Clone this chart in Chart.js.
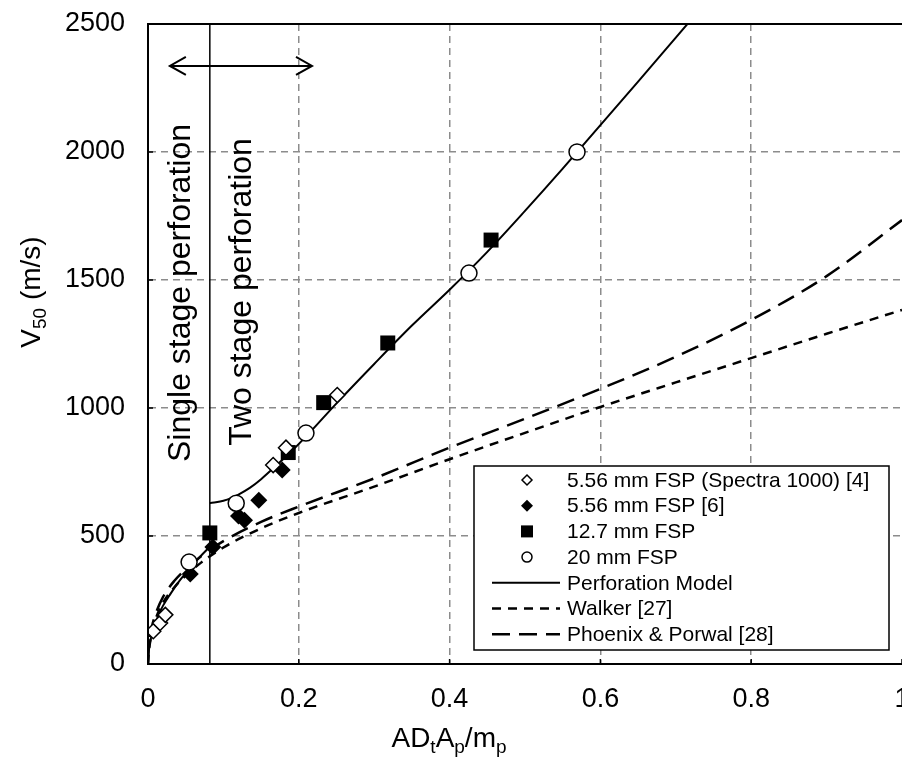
<!DOCTYPE html>
<html><head><meta charset="utf-8">
<script src="https://cdn.jsdelivr.net/npm/chart.js@4.4.1/dist/chart.umd.min.js"></script>
<style>html,body{margin:0;padding:0;background:#fff;overflow:hidden}
#wrap{position:absolute;left:0;top:0;width:902px;height:760px}</style>
</head><body><div id="wrap"><canvas id="c"></canvas></div>
<script>
const xTicks=[0,0.2,0.4,0.6,0.8,1];
const yTicks=[0,500,1000,1500,2000,2500];
const spectraX=[0.007,0.016,0.023,0.166,0.183,0.251];
const spectraY=[128,160,192,777,845,1051];
const fsp556X=[0.056,0.086,0.120,0.128,0.147,0.178];
const fsp556Y=[352,457,578,562,640,758];
const fsp127X=[0.082,0.186,0.233,0.318,0.455];
const fsp127Y=[512,826,1021,1254,1656];
const fsp20X=[0.0545,0.117,0.2095,0.4257,0.569];
const fsp20Y=[398,628,902,1527,2000];
const singleX=[0,0.0005,0.001,0.002,0.004,0.007,0.01,0.015,0.02,0.03,0.04,0.05,0.06,0.07,0.082];
const singleY=[0,36,51,72,102,135,162,198,228,275,318,355,390,422,458];
const twoX=[0.082,0.09,0.1,0.11,0.12,0.135,0.15,0.17,0.19,0.21,0.25,0.3,0.35,0.4,0.45,0.5,0.55,0.6,0.65,0.7,0.73];
const twoY=[629,632,638,648,662,688,722,775,830,890,1018,1172,1322,1462,1610,1770,1935,2105,2275,2447,2550];
const walkerX=[0,0.001,0.003,0.006,0.01,0.02,0.035,0.05,0.07,0.1,0.15,0.2,0.3,0.4,0.5,0.6,0.7,0.8,0.9,1.0];
const walkerY=[0,45,90,135,175,240,300,345,395,455,530,590,693,800,903,1004,1100,1195,1290,1383];
const phoenixX=[0,0.001,0.003,0.006,0.01,0.02,0.035,0.05,0.07,0.1,0.15,0.2,0.3,0.4,0.5,0.6,0.7,0.8,0.9,1.0];
const phoenixY=[0,60,110,155,195,262,325,370,420,480,555,615,725,845,958,1075,1200,1344,1515,1734];
const boundaryX=[0.082,0.082];
const boundaryY=[0,2500];
const arrowX=[0.029,0.2175];
const arrowY=[2336,2336];
const legendLabels=["5.56 mm FSP (Spectra 1000) [4]","5.56 mm FSP [6]","12.7 mm FSP","20 mm FSP","Perforation Model","Walker [27]","Phoenix & Porwal [28]"];

const pts=(xs,ys)=>xs.map((x,i)=>({x:x,y:ys[i]}));
const FONT='"Liberation Sans", Arial, sans-serif';
const GRID='#8c8c8c';

function lineDs(xs,ys,dash,w){return {type:'scatter',data:pts(xs,ys),showLine:true,pointRadius:0,borderColor:'#000',borderWidth:w,borderDash:dash,fill:false,cubicInterpolationMode:'monotone',order:5};}

const overlay={
  id:'overlay',
  afterDatasetsDraw(chart){
    const ctx=chart.ctx, xs=chart.scales.x, ys=chart.scales.y, a=chart.chartArea;
    ctx.save();
    const ay=ys.getPixelForValue(arrowY[0]);
    const ax1=xs.getPixelForValue(arrowX[0]), ax2=xs.getPixelForValue(arrowX[1]);
    ctx.strokeStyle='#000';ctx.lineWidth=2;ctx.beginPath();
    ctx.moveTo(ax1+16,ay-9);ctx.lineTo(ax1,ay);ctx.lineTo(ax1+16,ay+9);
    ctx.moveTo(ax2-16,ay-9);ctx.lineTo(ax2,ay);ctx.lineTo(ax2-16,ay+9);
    ctx.stroke();
    ctx.lineWidth=2;ctx.beginPath();
    ctx.moveTo(a.left,a.top);ctx.lineTo(a.right,a.top);
    ctx.moveTo(a.left,a.top);ctx.lineTo(a.left,a.bottom);ctx.lineTo(a.right,a.bottom);
    ctx.stroke();
    ctx.lineWidth=1.5;ctx.beginPath();
    yTicks.forEach(v=>{const p=ys.getPixelForValue(v);ctx.moveTo(a.left,p);ctx.lineTo(a.left+5,p);});
    xTicks.forEach(v=>{const p=xs.getPixelForValue(v);ctx.moveTo(p,a.bottom);ctx.lineTo(p,a.bottom-5);});
    ctx.stroke();
    ctx.fillStyle='#000';ctx.textAlign='center';ctx.textBaseline='middle';
    ctx.font='32px '+FONT;
    ctx.save();ctx.translate(181,293);ctx.rotate(-Math.PI/2);ctx.fillText('Single stage perforation',0,0);ctx.restore();
    ctx.save();ctx.translate(242,292);ctx.rotate(-Math.PI/2);ctx.fillText('Two stage perforation',0,0);ctx.restore();
    const L=474,T=466,R=889,B=650;
    ctx.fillStyle='#fff';ctx.fillRect(L,T,R-L,B-T);
    ctx.strokeStyle='#000';ctx.lineWidth=1.5;ctx.strokeRect(L,T,R-L,B-T);
    ctx.font='21px '+FONT;ctx.textAlign='left';ctx.fillStyle='#000';
    const rowY=i=>480+i*25.7;
    legendLabels.forEach((t,i)=>{ctx.fillStyle='#000';ctx.fillText(t,567,rowY(i)+1);});
    const cx=527;
    let y=rowY(0);ctx.lineWidth=1.5;ctx.beginPath();ctx.moveTo(cx-5,y);ctx.lineTo(cx,y-5);ctx.lineTo(cx+5,y);ctx.lineTo(cx,y+5);ctx.closePath();ctx.fillStyle='#fff';ctx.fill();ctx.stroke();
    y=rowY(1);ctx.beginPath();ctx.moveTo(cx-6,y);ctx.lineTo(cx,y-6);ctx.lineTo(cx+6,y);ctx.lineTo(cx,y+6);ctx.closePath();ctx.fillStyle='#000';ctx.fill();
    y=rowY(2);ctx.fillRect(cx-6,y-6,12,12);
    y=rowY(3);ctx.beginPath();ctx.arc(cx,y,5,0,Math.PI*2);ctx.fillStyle='#fff';ctx.fill();ctx.stroke();
    const seg=(i,dash,w)=>{const yy=rowY(i);ctx.setLineDash(dash);ctx.lineWidth=w;ctx.beginPath();ctx.moveTo(492,yy);ctx.lineTo(560,yy);ctx.stroke();};
    seg(4,[],2);seg(5,[9,7],2.5);seg(6,[18,9],2.5);ctx.setLineDash([]);
    ctx.fillStyle='#000';ctx.textBaseline='alphabetic';
    const drawRich=(parts,x,y)=>{let w=0;parts.forEach(p=>{ctx.font=(p.s?'19px ':'28px ')+FONT;w+=ctx.measureText(p.t).width;});let cxp=x-w/2;parts.forEach(p=>{ctx.font=(p.s?'19px ':'28px ')+FONT;ctx.textAlign='left';ctx.fillText(p.t,cxp,y+(p.s?6:0));cxp+=ctx.measureText(p.t).width;});};
    drawRich([{t:'AD'},{t:'t',s:1},{t:'A'},{t:'p',s:1},{t:'/m'},{t:'p',s:1}],449,747);
    ctx.save();ctx.translate(40,292);ctx.rotate(-Math.PI/2);
    drawRich([{t:'V'},{t:'50',s:1},{t:' (m/s)'}],0,0);
    ctx.restore();
    ctx.restore();
  }
};

new Chart(document.getElementById('c'),{
  data:{datasets:[
    {type:'scatter',data:pts(fsp20X,fsp20Y),pointStyle:'circle',pointRadius:8,pointBackgroundColor:'#fff',pointBorderColor:'#000',pointBorderWidth:1.5,order:1},
    {type:'scatter',data:pts(spectraX,spectraY),pointStyle:'rectRot',pointRadius:7.5,pointBackgroundColor:'#fff',pointBorderColor:'#000',pointBorderWidth:1.5,order:2},
    {type:'scatter',data:pts(fsp127X,fsp127Y),pointStyle:'rect',pointRadius:10.6,pointBackgroundColor:'#000',pointBorderColor:'#000',pointBorderWidth:0,order:3},
    {type:'scatter',data:pts(fsp556X,fsp556Y),pointStyle:'rectRot',pointRadius:8.5,pointBackgroundColor:'#000',pointBorderColor:'#000',pointBorderWidth:0,order:4},
    lineDs(twoX,twoY,[],2),
    lineDs(singleX,singleY,[],2),
    lineDs(walkerX,walkerY,[9,7],2.5),
    lineDs(phoenixX,phoenixY,[18,9],2.5),
    Object.assign(lineDs(boundaryX,boundaryY,[],1.5),{cubicInterpolationMode:'default',tension:0}),
    Object.assign(lineDs(arrowX,arrowY,[],2),{cubicInterpolationMode:'default',tension:0})
  ]},
  options:{
    responsive:true,maintainAspectRatio:false,animation:false,
    layout:{autoPadding:false,padding:{top:24,left:0,right:0,bottom:0}},
    plugins:{legend:{display:false},tooltip:{enabled:false}},
    scales:{
      x:{type:'linear',min:0,max:1,
        afterBuildTicks:s=>{s.ticks=xTicks.map(v=>({value:v}));},
        afterFit:s=>{s.height=96;s.paddingRight=0;s.paddingLeft=0;},
        ticks:{color:'#000',font:{family:FONT,size:27},padding:19,maxRotation:0,autoSkip:false,callback:v=>String(v)},
        grid:{drawTicks:false,lineWidth:1.5,color:c=>(c.tick&&c.tick.value>0&&c.tick.value<1)?GRID:'rgba(0,0,0,0)'},
        border:{display:true,color:'#000',width:2,dash:[7,5]}
      },
      y:{type:'linear',min:0,max:2500,
        afterBuildTicks:s=>{s.ticks=yTicks.map(v=>({value:v}));},
        afterFit:s=>{s.width=148;s.paddingTop=0;s.paddingBottom=0;},
        ticks:{color:'#000',font:{family:FONT,size:27},padding:23,callback:v=>String(v)},
        grid:{drawTicks:false,lineWidth:1.5,color:c=>(c.tick&&c.tick.value>0&&c.tick.value<2500)?GRID:'rgba(0,0,0,0)'},
        border:{display:true,color:'#000',width:2,dash:[7,5]}
      }
    }
  },
  plugins:[overlay]
});
</script></body></html>
